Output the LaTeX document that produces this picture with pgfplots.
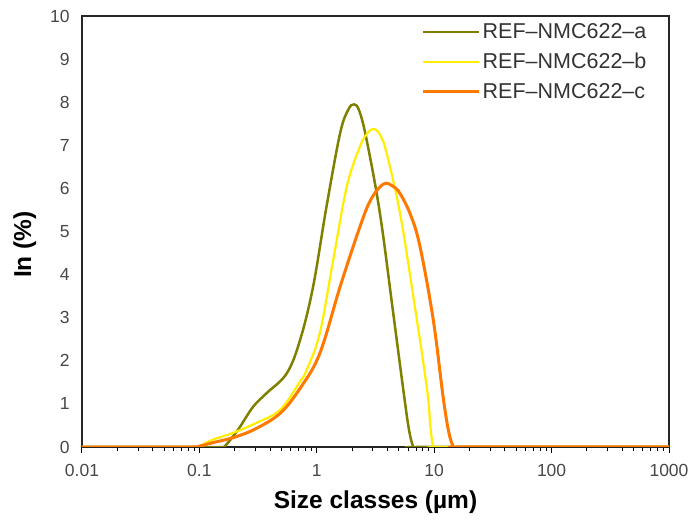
\documentclass[border=0pt]{standalone}
\usepackage{fontspec}
\setmainfont{Liberation Sans}
\usepackage{pgfplots}
\pgfplotsset{compat=1.18}

\definecolor{seriesA}{RGB}{128,128,0}
\definecolor{seriesB}{RGB}{255,238,0}
\definecolor{seriesC}{RGB}{255,120,0}

\begin{document}
\begin{tikzpicture}
\useasboundingbox (0bp,0bp) rectangle (692bp,526bp);
\begin{axis}[
  at={(82bp,79bp)}, anchor=south west,
  scale only axis,
  width=587bp, height=431bp,
  xmode=log,
  xmin=0.01, xmax=1000,
  ymin=0, ymax=10,
  xtick={0.01,0.1,1,10,100,1000},
  xticklabels={0.01,0.1,1,10,100,1000},
  ytick={0,1,...,10},
  minor x tick num=8,
  tick pos=left,
  tick align=outside,
  x tick style={black, line width=1pt},
  major tick length=6bp,
  minor tick length=4bp,
  y tick style={draw=none},
  axis line style={line width=1.4pt, black!85},
  tick label style={font=\fontsize{17.5bp}{20bp}\selectfont, text=black!72},
  /pgf/number format/assume math mode=true,
  xticklabel style={yshift=-8bp},
  yticklabel style={xshift=-3bp},
  xlabel={\textbf{Size classes (µm)}},
  ylabel={\textbf{In (\%)}},
  label style={font=\fontsize{24.5bp}{27bp}\selectfont},
  xlabel style={yshift=-7bp},
  ylabel style={yshift=7bp, xshift=-13bp},
  legend style={draw=none, fill=none, at={(0.575,0.992)}, anchor=north west,
    font=\fontsize{21.5bp}{24bp}\selectfont, text=black!80,
    row sep=9bp, inner sep=2bp},
  legend cell align=left,
  legend image code/.code={\draw[#1] (0bp,0bp) -- (56bp,0bp);},
  every axis plot/.append style={smooth, tension=0.6},
]
% sample a
\addplot[seriesA, line width=2.5bp] coordinates {
  (0.01,0) (0.1,0) (0.15,0) (0.165,0.02) (0.2,0.30) (0.222,0.47) (0.288,0.94)
  (0.374,1.25) (0.555,1.71) (0.72,2.48) (0.93,3.72) (1.21,5.58) (1.58,7.28)
  (1.85,7.82) (2.07,7.95) (2.3,7.80) (2.66,7.12) (3.45,5.42) (4.48,3.10)
  (5.46,1.32) (6.1,0.40) (6.64,0) (7,0) (100,0) (1000,0)
};
\addlegendentry{REF--NMC622--a}
% sample b
\addplot[seriesB, line width=2.2bp] coordinates {
  (0.01,0) (0.09,0) (0.1,0.02) (0.13,0.17) (0.195,0.33) (0.3,0.55) (0.486,0.86)
  (0.72,1.52) (0.82,1.79) (1.06,2.64) (1.38,4.34) (1.80,6.04) (2.33,6.97)
  (2.7,7.28) (3.07,7.38) (3.5,7.22) (3.94,6.81) (5.12,5.42) (6.64,3.49)
  (8.63,1.40) (9.3,0.45) (9.82,0) (10.5,0) (100,0) (1000,0)
};
\addlegendentry{REF--NMC622--b}
% sample c
\addplot[seriesC, line width=3bp] coordinates {
  (0.01,0) (0.09,0) (0.1,0.02) (0.13,0.10) (0.195,0.22) (0.3,0.42) (0.486,0.78)
  (0.72,1.36) (1.06,2.17) (1.58,3.72) (2.33,5.11) (2.9,5.75) (3.69,6.10)
  (4.4,6.06) (5.12,5.88) (6.3,5.38) (7.57,4.65) (9.82,2.95) (11.9,1.17)
  (13.3,0.35) (14.6,0) (15.5,0) (100,0) (1000,0)
};
\addlegendentry{REF--NMC622--c}
\end{axis}
\end{tikzpicture}
\end{document}
